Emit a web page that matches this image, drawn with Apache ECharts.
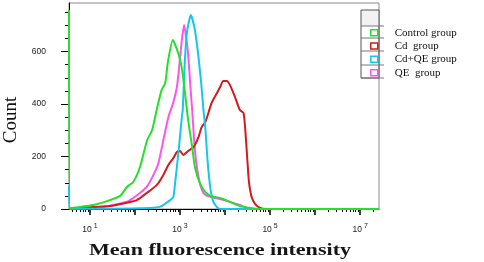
<!DOCTYPE html>
<html>
<head>
<meta charset="utf-8">
<script src="https://cdn.jsdelivr.net/npm/echarts@6/dist/echarts.min.js"></script>
<style>
  html, body { margin: 0; padding: 0; background: #fff; }
  #chart { width: 484px; height: 262px; }
</style>
</head>
<body>
<div id="chart"></div>
<script>
// Datos: [log10(intensidad), recuento]
const controlGroup = [[0.533, 758], [0.556, 4], [0.78, 8], [1.07, 15], [1.44, 34], [1.67, 50], [1.82, 84], [1.96, 103], [2.11, 160], [2.27, 263], [2.38, 301], [2.49, 385], [2.59, 453], [2.67, 480], [2.73, 560], [2.84, 644], [2.96, 594], [3.04, 537], [3.11, 442], [3.18, 339], [3.27, 236], [3.33, 160], [3.44, 99], [3.56, 65], [3.67, 50], [3.89, 42], [4.11, 27], [4.33, 11], [4.56, 4], [4.8, 0], [7.42, 0]];
const cdGroup = [[0.533, 0], [0.6, 2], [1.07, 8], [1.44, 11], [1.82, 24], [2.04, 34], [2.26, 61], [2.48, 91], [2.63, 130], [2.74, 168], [2.85, 194], [2.93, 217], [3.0, 221], [3.07, 206], [3.18, 221], [3.3, 236], [3.41, 274], [3.48, 312], [3.56, 331], [3.63, 366], [3.7, 404], [3.82, 442], [3.89, 465], [3.96, 488], [4.04, 488], [4.11, 472], [4.22, 427], [4.33, 377], [4.41, 366], [4.45, 300], [4.49, 200], [4.53, 105], [4.59, 46], [4.67, 19], [4.78, 4], [4.9, 0], [7.42, 0]];
const cdQeGroup = [[0.533, 90], [0.556, 2], [1.5, 1], [2.33, 4], [2.56, 9], [2.78, 34], [2.85, 46], [2.89, 99], [2.97, 225], [3.04, 350], [3.06, 377], [3.1, 541], [3.15, 670], [3.24, 739], [3.33, 682], [3.41, 579], [3.47, 480], [3.52, 377], [3.56, 312], [3.61, 187], [3.67, 84], [3.74, 27], [3.84, 4], [3.95, 0], [7.42, 0]];
const qeGroup = [[0.533, 0], [0.8, 3], [1.29, 8], [1.51, 15], [1.82, 28], [1.96, 42], [2.11, 61], [2.26, 84], [2.41, 130], [2.52, 175], [2.63, 263], [2.74, 350], [2.84, 400], [2.93, 465], [2.98, 541], [3.04, 644], [3.09, 701], [3.17, 606], [3.21, 518], [3.24, 442], [3.27, 377], [3.33, 225], [3.41, 122], [3.52, 61], [3.67, 46], [3.89, 38], [4.11, 27], [4.33, 15], [4.49, 4], [4.6, 0], [7.42, 0]];

// Nombres de las series y etiquetas de los ejes
const seriesNames = ["Control group", "Cd  group", "Cd+QE group", "QE  group"];
const yTicks = [0, 200, 400, 600];
const xDecades = [1, 2, 3, 4, 5, 6, 7];
const xLabelDecades = [1, 3, 5, 7];

// Marcas menores del eje y (cada 50) y del eje x (2..9 por década)
const yMinorTicks = [];
for (let v = 50; v < 785; v += 50) {
  if (v % 200 !== 0) yMinorTicks.push(v);
}
const xMinorTicks = [];
for (let d = 0; d < 8; d++) {
  for (let k = 2; k < 10; k++) {
    const t = d + Math.log10(k);
    if (t > 0.533 && t < 7.42) xMinorTicks.push(t);
  }
}

const colores = ["#25e02a", "#d41a1a", "#17c6ee", "#fb55ee"];

function crearSerie(indice, datos) {
  return {
    name: seriesNames[indice],
    type: "line",
    data: datos,
    color: colores[indice],
    symbol: "none",
    smooth: 0.2,
    lineStyle: { width: 2, color: colores[indice] },
  };
}

const option = {
  animation: false,
  grid: {
    left: 69,
    top: 3,
    width: 310,
    height: 206,
    show: true,
    borderColor: "#8a8a8a",
    borderWidth: 1,
  },
  legend: {
    data: seriesNames.map((nombre, i) => ({
      name: nombre,
      icon: "rect",
      itemStyle: { color: "#fff", borderColor: colores[i], borderWidth: 1.5 },
    })),
    orient: "vertical",
    left: 365,
    top: 22,
    itemWidth: 7,
    itemHeight: 6,
    itemGap: 1.8,
    textStyle: {
      fontFamily: "Liberation Serif",
      fontSize: 11,
      color: "#111",
      lineHeight: 11.5,
      padding: [0, 0, 0, 12],
    },
  },
  xAxis: [
    {
      type: "value",
      min: 0.533,
      max: 7.42,
      position: "bottom",
      splitLine: { show: false },
      axisLine: { lineStyle: { color: "#000", width: 1 } },
      axisTick: { customValues: xDecades, length: 6, lineStyle: { color: "#000", width: 1.5 } },
      axisLabel: {
        customValues: xLabelDecades,
        margin: 14,
        formatter: (v) => "{b|10}{s|" + v + "}",
        rich: {
          b: { fontFamily: "Liberation Sans", fontSize: 8.5, color: "#222" },
          s: { fontFamily: "Liberation Sans", fontSize: 7, color: "#222", padding: [0, 0, 7, 2] },
        },
      },
    },
    {
      type: "value",
      min: 0.533,
      max: 7.42,
      position: "bottom",
      splitLine: { show: false },
      axisLine: { show: false },
      axisTick: { customValues: xMinorTicks, length: 3, lineStyle: { color: "#000", width: 1 } },
      axisLabel: { show: false },
    },
  ],
  yAxis: [
    {
      type: "value",
      min: 0,
      max: 785,
      position: "left",
      splitLine: { show: false },
      axisLine: { show: true, lineStyle: { color: "#000", width: 1 } },
      axisTick: { show: true, customValues: yTicks, length: 8, lineStyle: { color: "#000" } },
      axisLabel: {
        customValues: yTicks,
        margin: 23,
        fontFamily: "Liberation Sans",
        fontSize: 8.5,
        color: "#222",
      },
    },
    {
      type: "value",
      min: 0,
      max: 785,
      position: "left",
      splitLine: { show: false },
      axisLine: { show: false },
      axisTick: { show: true, customValues: yMinorTicks, length: 4, lineStyle: { color: "#000" } },
      axisLabel: { show: false },
    },
  ],
  graphic: [
    // Título eje y
    {
      type: "text",
      x: 11,
      y: 120,
      rotation: Math.PI / 2,
      style: {
        text: "Count",
        font: '19px "Liberation Serif"',
        fill: "#111",
        align: "center",
        verticalAlign: "middle",
      },
    },
    // Título eje x
    {
      type: "text",
      x: 220,
      y: 251,
      scaleX: 1.38,
      style: {
        text: "Mean fluorescence intensity",
        font: 'bold 16px "Liberation Serif"',
        fill: "#151515",
        align: "center",
        verticalAlign: "middle",
      },
    },
    // Caja de la leyenda
    { type: "rect", shape: { x: 361, y: 10, width: 18, height: 16 }, style: { fill: "#f2f2f2" } },
    { type: "rect", shape: { x: 361, y: 10, width: 18, height: 68 }, style: { fill: "none", stroke: "#555", lineWidth: 1 } },
    { type: "line", shape: { x1: 361, y1: 26, x2: 384, y2: 26 }, style: { stroke: "#777", lineWidth: 1 } },
    { type: "line", shape: { x1: 361, y1: 38, x2: 384, y2: 38 }, style: { stroke: "#777", lineWidth: 1 } },
    { type: "line", shape: { x1: 361, y1: 51, x2: 384, y2: 51 }, style: { stroke: "#777", lineWidth: 1 } },
    { type: "line", shape: { x1: 361, y1: 65, x2: 384, y2: 65 }, style: { stroke: "#777", lineWidth: 1 } },
    { type: "line", shape: { x1: 361, y1: 78, x2: 384, y2: 78 }, style: { stroke: "#777", lineWidth: 1 } },
  ],
  series: [
    crearSerie(3, qeGroup),
    crearSerie(1, cdGroup),
    crearSerie(2, cdQeGroup),
    crearSerie(0, controlGroup),
  ],
};

const myChart = echarts.init(document.getElementById("chart"), null, { renderer: "canvas" });
myChart.setOption(option);
</script>
</body>
</html>
